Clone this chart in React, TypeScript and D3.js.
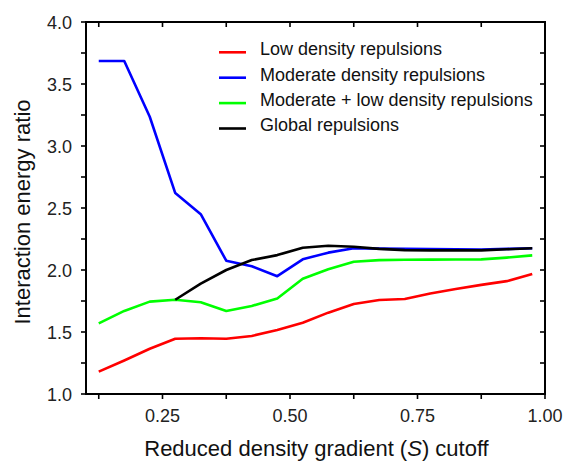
import React from "react";
import * as d3 from "d3";

// S cutoff values
const sCutoff = [0.125, 0.175, 0.225, 0.275, 0.325, 0.375, 0.425, 0.475, 0.525, 0.575, 0.625, 0.675, 0.725, 0.775, 0.825, 0.875, 0.925, 0.975];

const lowDensity = [1.18, 1.27, 1.365, 1.446, 1.45, 1.446, 1.468, 1.516, 1.575, 1.656, 1.726, 1.758, 1.766, 1.81, 1.847, 1.88, 1.91, 1.968];
const moderateDensity = [3.685, 3.685, 3.236, 2.62, 2.45, 2.075, 2.03, 1.95, 2.086, 2.14, 2.175, 2.172, 2.17, 2.168, 2.166, 2.165, 2.17, 2.175];
const moderateLow = [1.57, 1.67, 1.745, 1.76, 1.74, 1.67, 1.71, 1.77, 1.93, 2.006, 2.067, 2.08, 2.083, 2.084, 2.085, 2.086, 2.1, 2.118];
const globalRep: (number | null)[] = [null, null, null, 1.76, 1.89, 2.0, 2.08, 2.12, 2.18, 2.196, 2.188, 2.17, 2.16, 2.158, 2.158, 2.158, 2.167, 2.175];

const seriesNames = ["Low density repulsions", "Moderate density repulsions", "Moderate + low density repulsions", "Global repulsions"];
const seriesColors = ["#ff0000", "#0000ff", "#00ff00", "#000000"];
const seriesValues: (number | null)[][] = [lowDensity, moderateDensity, moderateLow, globalRep];

const xMajorTicks = [0.25, 0.5, 0.75, 1.0];
const xMinorTicks = [0.125, 0.375, 0.625, 0.875];
const yMajorTicks = [1.0, 1.5, 2.0, 2.5, 3.0, 3.5, 4.0];
const yMinorTicks = [1.25, 1.75, 2.25, 2.75, 3.25, 3.75];

const W = 567;
const H = 462;
const left = 86;
const right = 545;
const top = 22;
const bottom = 394;
const FONT = "'Liberation Sans', Arial, Helvetica, sans-serif";

export default function App() {
  const x = d3.scaleLinear().domain([0.1, 1.0]).range([left, right]);
  const y = d3.scaleLinear().domain([1.0, 4.0]).range([bottom, top]);

  const line = d3
    .line<[number, number | null]>()
    .defined((d) => d[1] !== null)
    .x((d) => x(d[0]))
    .y((d) => y(d[1] as number));

  const tickLen = 5;
  const xTicks = [...xMajorTicks, ...xMinorTicks];
  const yTicks = [...yMajorTicks, ...yMinorTicks];

  return (
    <svg
      width={W}
      height={H}
      style={{ position: "absolute", left: 0, top: 0, background: "#fff" }}
      fontFamily={FONT}
    >
      {/* data lines */}
      <g fill="none" strokeWidth={2.6} strokeLinejoin="round">
        {seriesValues.map((vals, i) => (
          <path
            key={i}
            d={line(sCutoff.map((s, j) => [s, vals[j]] as [number, number | null])) || ""}
            stroke={seriesColors[i]}
          />
        ))}
      </g>

      {/* frame */}
      <rect x={left} y={top} width={right - left} height={bottom - top} fill="none" stroke="#000" strokeWidth={2} />

      {/* ticks: outward on bottom/left, inward on top/right */}
      <g stroke="#000" strokeWidth={1.6}>
        {xTicks.map((t) => (
          <g key={"x" + t}>
            <line x1={x(t)} x2={x(t)} y1={bottom} y2={bottom + tickLen} />
            <line x1={x(t)} x2={x(t)} y1={top} y2={top + tickLen} />
          </g>
        ))}
        {yTicks.map((t) => (
          <g key={"y" + t}>
            <line x1={left - tickLen} x2={left} y1={y(t)} y2={y(t)} />
            <line x1={right - tickLen} x2={right} y1={y(t)} y2={y(t)} />
          </g>
        ))}
      </g>

      {/* tick labels */}
      <g fontSize={18} fill="#222">
        {xMajorTicks.map((t) => (
          <text key={"xl" + t} x={x(t)} y={bottom + 28} textAnchor="middle">
            {d3.format(".2f")(t)}
          </text>
        ))}
        {yMajorTicks.map((t) => (
          <text key={"yl" + t} x={left - 14} y={y(t) + 6.5} textAnchor="end">
            {d3.format(".1f")(t)}
          </text>
        ))}
      </g>

      {/* axis titles */}
      <text x={(left + right) / 2 + 1} y={456} textAnchor="middle" fontSize={22} fill="#111">
        Reduced density gradient (<tspan fontStyle="italic">S</tspan>) cutoff
      </text>
      <text
        transform={`translate(30, ${(top + bottom) / 2 + 4}) rotate(-90)`}
        textAnchor="middle"
        fontSize={22}
        fill="#111"
      >
        Interaction energy ratio
      </text>

      {/* legend */}
      <g fontSize={18} fill="#111">
        {seriesNames.map((name, i) => (
          <g key={name} transform={`translate(219, ${52.3 + i * 25.4})`}>
            <line x1={0} x2={27} y1={0} y2={0} stroke={seriesColors[i]} strokeWidth={2.6} />
            <text x={41} y={2.8}>
              {name}
            </text>
          </g>
        ))}
      </g>
    </svg>
  );
}
